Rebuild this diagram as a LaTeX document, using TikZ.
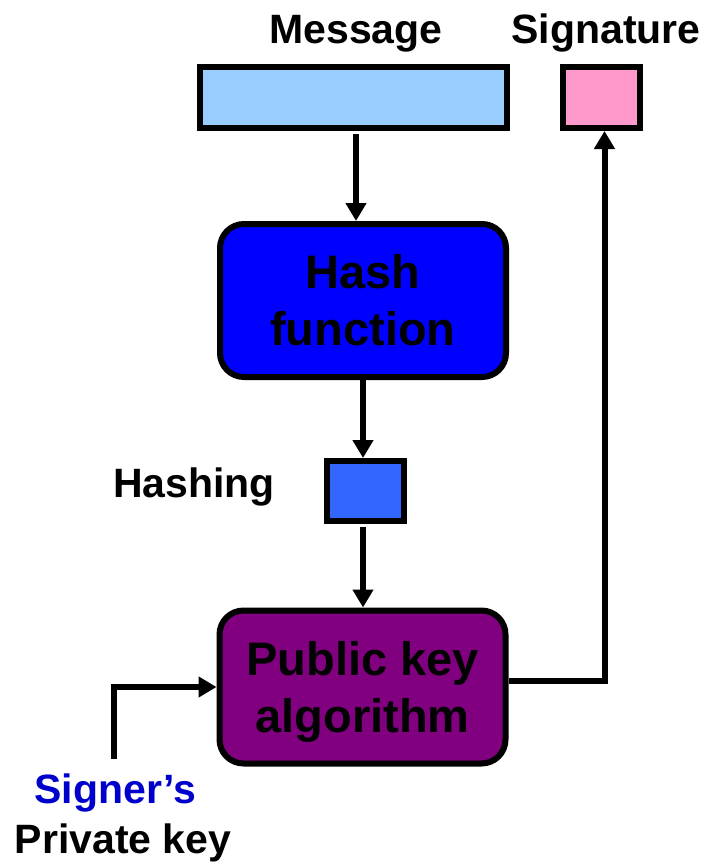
\documentclass[tikz,border=0pt]{standalone}
\usepackage{fontspec}
\setmainfont{Liberation Sans}
\usetikzlibrary{arrows.meta}
\definecolor{msgblue}{HTML}{99CCFF}
\definecolor{sigpink}{HTML}{FF99CC}
\definecolor{hashblue}{HTML}{0000FF}
\definecolor{digestblue}{HTML}{3366FF}
\definecolor{algpurple}{HTML}{800080}
\definecolor{signerblue}{HTML}{0000CC}
\tikzset{
  databox/.style={draw=black, line width=6pt, inner sep=0pt},
  procbox/.style={draw=black, line width=6pt, rounded corners=24pt,
    minimum width=286pt, minimum height=153pt, inner sep=0pt,
    align=center, font=\fontsize{47}{57}\selectfont\bfseries},
  caption/.style={anchor=base, inner sep=0pt, font=\fontsize{41}{49}\selectfont\bfseries},
  conn/.style={line width=6pt, line join=miter, -{Triangle[length=18pt,width=20pt]}},
}
\begin{document}
\begin{tikzpicture}[x=1pt, y=-1pt]
  \useasboundingbox (0,0) rectangle (708,864);

  % data blocks
  \node[databox, fill=msgblue, minimum width=307pt, minimum height=61pt] (msg) at (353.5,97.5) {};
  \node[databox, fill=sigpink, minimum width=77pt, minimum height=61pt] (sig) at (601.5,97.5) {};
  \node[databox, fill=digestblue, minimum width=77pt, minimum height=60pt] (digest) at (365.5,491) {};

  % processing steps
  \node[procbox, fill=hashblue] (hash) at (363,300.5) {Hash\\function};
  \node[procbox, fill=algpurple, text depth=0pt] (pub) at (362.5,687) {Public key\\algorithm};

  % captions
  \node[caption] (msglabel) at (356,44) {Message};
  \node[caption] (siglabel) at (606,44) {Signature};
  \node[caption] (digestlabel) at (194,497) {Hashing};
  \node[caption, text=signerblue] (signer) at (115.5,803) {Signer’s};
  \node[caption] (privkey) at (123,853) {Private key};

  % key input
  \coordinate (keyfoot) at (114,759);

  % connectors
  \draw[conn, shorten <=3pt] ([xshift=2.5pt]msg.south) -- ([xshift=-7pt]hash.north);
  \draw[conn] (hash.south) -- (hash.south |- digest.north);
  \draw[conn, shorten <=3pt] (digest.south -| hash.south) -- (pub.north -| hash.south);
  \draw[conn] (keyfoot) |- (pub.west);
  \draw[conn] ([yshift=6pt]pub.east) -| ([xshift=3pt]sig.south);
\end{tikzpicture}
\end{document}
